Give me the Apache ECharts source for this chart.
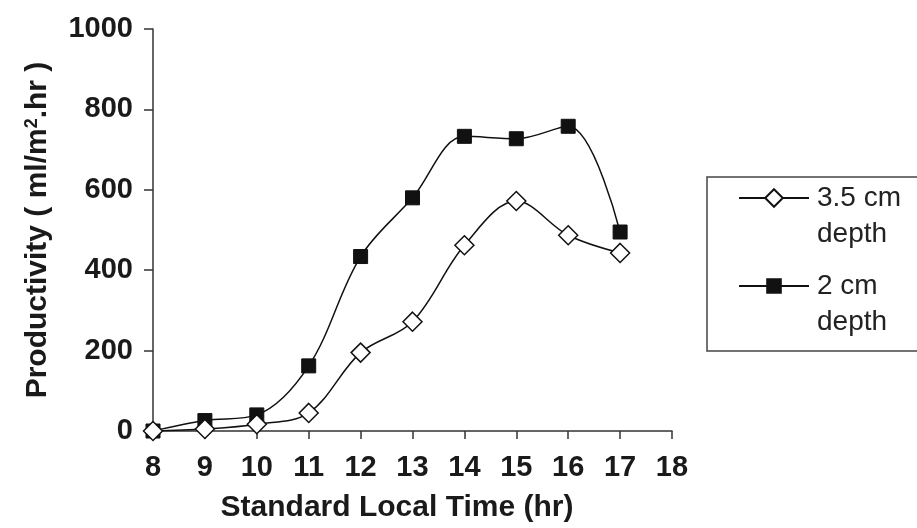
<!DOCTYPE html>
<html>
<head>
<meta charset="utf-8">
<script src="https://cdn.jsdelivr.net/npm/echarts@6/dist/echarts.min.js"></script>
<style>
  html, body { margin: 0; padding: 0; background: #fff; }
  #chart { width: 917px; height: 528px; }
</style>
</head>
<body>
<div id="chart"></div>
<script>
// ---- data ----
const hours = [8, 9, 10, 11, 12, 13, 14, 15, 16, 17];
const depth35 = [0, 5, 17, 45, 195, 272, 462, 572, 487, 443];
const depth2 = [0, 26, 40, 162, 434, 580, 733, 727, 758, 495];
const xTicks = [8, 9, 10, 11, 12, 13, 14, 15, 16, 17, 18];
const yTicks = [0, 200, 400, 600, 800, 1000];
const seriesNames = ['3.5 cm depth', '2 cm depth'];

const FONT = '"Liberation Sans", Arial, Helvetica, sans-serif';
const AXIS_COLOR = '#333';

const chart = echarts.init(document.getElementById('chart'), null, { renderer: 'canvas' });

function pair(xs, ys) { return xs.map((x, i) => [x, ys[i]]); }

const legendText = {
  fontFamily: FONT,
  fontSize: 28,
  color: '#222',
  lineHeight: 36,
  padding: [0, 0, 0, 3]
};

const option = {
  animation: false,
  backgroundColor: '#fff',
  grid: { left: 153, right: 245, top: 29, bottom: 95, containLabel: false },
  xAxis: {
    type: 'value',
    min: xTicks[0],
    max: xTicks[xTicks.length - 1],
    interval: 1,
    name: 'Standard Local Time (hr)',
    nameLocation: 'middle',
    nameGap: 62,
    nameTextStyle: {
      fontFamily: FONT, fontSize: 30, fontWeight: 'bold', color: '#1a1a1a',
      padding: [0, 31, 0, 0]
    },
    axisLine: { show: true, onZero: false, lineStyle: { color: AXIS_COLOR, width: 1.5 } },
    axisTick: { show: true, inside: false, length: 8, lineStyle: { color: AXIS_COLOR, width: 1.5 } },
    axisLabel: {
      margin: 22, fontFamily: FONT, fontSize: 29, fontWeight: 'bold', color: '#1a1a1a',
      formatter: v => (xTicks.indexOf(v) >= 0 ? String(v) : '')
    },
    splitLine: { show: false }
  },
  yAxis: {
    type: 'value',
    min: yTicks[0],
    max: yTicks[yTicks.length - 1],
    interval: 200,
    name: '{a|Productivity ( ml/m}{s|2}{a|.hr )}',
    nameLocation: 'middle',
    nameGap: 100,
    nameRotate: 90,
    nameTextStyle: {
      fontFamily: FONT, fontWeight: 'bold', color: '#1a1a1a',
      rich: {
        a: { fontFamily: FONT, fontSize: 30, fontWeight: 'bold', color: '#1a1a1a' },
        s: { fontFamily: FONT, fontSize: 18, fontWeight: 'bold', color: '#1a1a1a', verticalAlign: 'top' }
      }
    },
    axisLine: { show: true, lineStyle: { color: AXIS_COLOR, width: 1.5 } },
    axisTick: { show: true, inside: false, length: 9, lineStyle: { color: AXIS_COLOR, width: 1.5 } },
    axisLabel: {
      margin: 20, fontFamily: FONT, fontSize: 29, fontWeight: 'bold', color: '#1a1a1a',
      formatter: v => (yTicks.indexOf(v) >= 0 ? String(v) : '')
    },
    splitLine: { show: false }
  },
  legend: [
    {
      data: [seriesNames[0]],
      orient: 'vertical',
      left: 738, top: 144,
      padding: 0,
      itemWidth: 70, itemHeight: 22,
      formatter: () => '\n3.5 cm\ndepth',
      textStyle: legendText,
      selectedMode: false
    },
    {
      data: [seriesNames[1]],
      orient: 'vertical',
      left: 738, top: 232,
      padding: 0,
      itemWidth: 70, itemHeight: 17,
      formatter: () => '\n2 cm\ndepth',
      textStyle: legendText,
      selectedMode: false
    }
  ],
  graphic: [
    {
      type: 'rect',
      shape: { x: 707, y: 177, width: 230, height: 174 },
      style: { fill: 'none', stroke: '#444', lineWidth: 1.5 },
      z: 0
    }
  ],
  series: [
    {
      name: seriesNames[1],
      type: 'line',
      data: pair(hours, depth2),
      smooth: 0.35,
      symbol: 'rect',
      symbolSize: 14,
      lineStyle: { color: '#111', width: 1.5 },
      itemStyle: { color: '#111', borderColor: '#111', borderWidth: 1 },
      z: 2
    },
    {
      name: seriesNames[0],
      type: 'line',
      data: pair(hours, depth35),
      smooth: 0.35,
      symbol: 'diamond',
      symbolSize: 19,
      lineStyle: { color: '#111', width: 1.5 },
      itemStyle: { color: '#fff', borderColor: '#111', borderWidth: 1.5 },
      z: 3
    }
  ]
};

chart.setOption(option);
</script>
</body>
</html>
